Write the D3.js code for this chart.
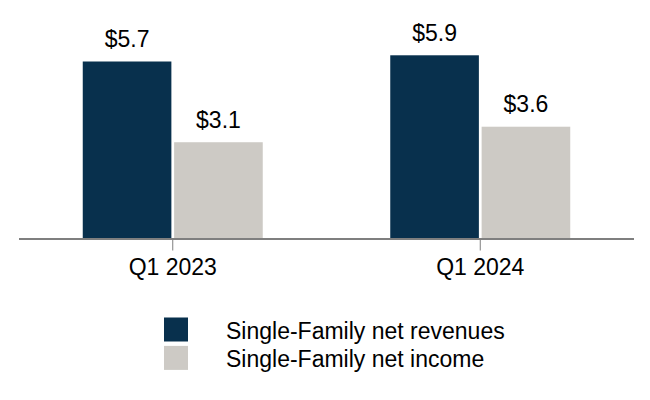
<!DOCTYPE html>
<html><head><meta charset="utf-8">
<script src="https://cdn.jsdelivr.net/npm/d3@7/dist/d3.min.js"></script>
<style>body{margin:0;background:#fff}svg{display:block;font-family:"Liberation Sans",Arial,sans-serif}</style>
</head><body><div id="chart"></div>
<script>
const categories = ["Q1 2023", "Q1 2024"];
const seriesNames = ["Single-Family net revenues", "Single-Family net income"];
const revenues = [5.7, 5.9];
const income = [3.1, 3.6];
const colors = ["#08304d", "#cdcac5"];

const W = 650, H = 400;
const svg = d3.select("#chart").append("svg").attr("width", W).attr("height", H);

const baseY = 238.5;
const x = d3.scaleBand().domain(categories).range([19, 634]).padding(0);
const y = d3.scaleLinear().domain([0, 5.7]).range([baseY, 61.5]);
const sub = d3.scaleBand().domain(seriesNames).range([0, 180]).paddingInner(0.03);

const series = [revenues, income];
const data = [];
categories.forEach((c, i) => series.forEach((s, j) => data.push({c, name: seriesNames[j], v: s[i], j})));

const groupOff = (x.bandwidth() - 180) / 2;

svg.selectAll("rect.bar").data(data).join("rect").attr("class", "bar")
  .attr("x", d => x(d.c) + groupOff + sub(d.name))
  .attr("width", sub.bandwidth())
  .attr("y", d => y(d.v))
  .attr("height", d => baseY - y(d.v))
  .attr("fill", d => colors[d.j]);

svg.selectAll("text.val").data(data).join("text").attr("class", "val")
  .attr("x", d => x(d.c) + groupOff + sub(d.name) + sub.bandwidth() / 2)
  .attr("y", d => y(d.v) - 14.5)
  .attr("text-anchor", "middle")
  .attr("font-size", 23)
  .attr("fill", "#000")
  .text(d => "$" + d3.format(".1f")(d.v));

// axis
const axisG = svg.append("g").attr("transform", `translate(0,${baseY})`);
axisG.append("line").attr("x1", 19).attr("x2", 634).attr("y1", 0.5).attr("y2", 0.5)
  .attr("stroke", "#7f7f7f").attr("stroke-width", 2);
const ax = d3.axisBottom(x).tickSize(12).tickSizeOuter(0).tickPadding(8.5);
const g2 = svg.append("g").attr("transform", `translate(0,${baseY})`).call(ax);
g2.select(".domain").remove();
g2.selectAll(".tick line").attr("stroke", "#7f7f7f").attr("stroke-width", 1);
g2.selectAll(".tick text").attr("font-size", 23).attr("fill", "#000")
  .attr("font-family", '"Liberation Sans",Arial,sans-serif');

// legend
const leg = svg.append("g").attr("transform", "translate(164,317.5)");
seriesNames.forEach((n, i) => {
  const gi = leg.append("g").attr("transform", `translate(0,${i * 28.4})`);
  gi.append("rect").attr("width", 24).attr("height", 24).attr("fill", colors[i]);
  gi.append("text").attr("x", 62).attr("y", 21)
    .attr("font-size", 23).attr("fill", "#000").text(n);
});
</script></body></html>
